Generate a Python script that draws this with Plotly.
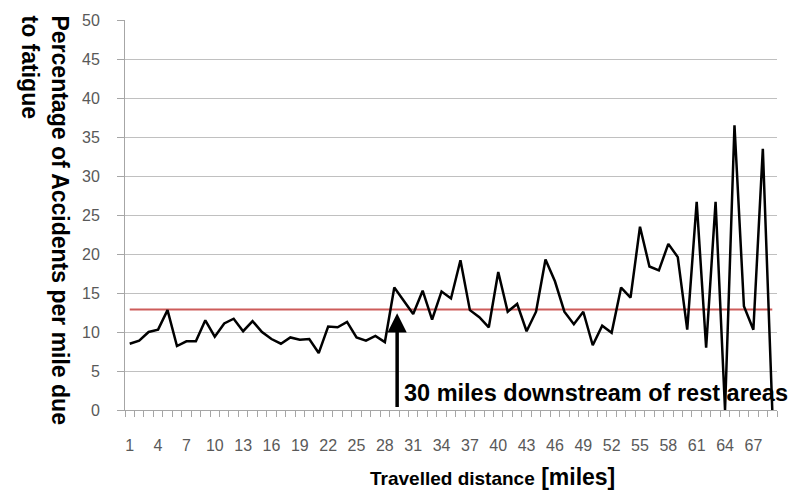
import plotly.graph_objects as go

# travelled distance categories (miles)
distance = list(range(1, 70))

# percentage of accidents per mile due to fatigue
pct_fatigue = [
    8.5, 8.9, 10.0, 10.3, 12.8, 8.2, 8.8, 8.8, 11.5, 9.4,
    11.1, 11.7, 10.1, 11.4, 10.0, 9.1, 8.5, 9.3, 9.0, 9.1,
    7.3, 10.7, 10.6, 11.3, 9.3, 8.9, 9.5, 8.7, 15.7, 14.0,
    12.3, 15.3, 11.6, 15.2, 14.3, 19.2, 12.8, 11.9, 10.6, 17.7,
    12.6, 13.6, 10.1, 12.6, 19.3, 16.5, 12.6, 11.0, 12.6, 8.3,
    10.8, 9.9, 15.7, 14.4, 23.5, 18.4, 17.9, 21.3, 19.6, 10.3,
    26.7, 8.0, 26.7, 0.0, 36.5, 13.3, 10.3, 33.5, 0.0,
]

avg_value = 12.9
x_ticks = list(range(1, 70, 3))
y_ticks = list(range(0, 55, 5))

TICK_FONT = dict(family="Liberation Sans", size=16, color="#595959")
BOLD = "Liberation Sans"

fig = go.Figure()

fig.add_trace(go.Scatter(
    x=distance, y=[avg_value] * len(distance),
    mode="lines",
    line=dict(color="#CD5C5A", width=2),
    hoverinfo="skip",
))

fig.add_trace(go.Scatter(
    x=distance, y=pct_fatigue,
    mode="lines",
    line=dict(color="black", width=2.5),
))

# arrow marking 30 miles downstream
fig.add_annotation(
    x=29.3, y=12.4, ax=29.3, ay=0.2,
    xref="x", yref="y", axref="x", ayref="y",
    showarrow=True, arrowhead=2, arrowsize=1.1, arrowwidth=3.5,
    arrowcolor="black", text="",
)
fig.add_annotation(
    x=29.8, y=2.2, xref="x", yref="y",
    text="<b>30 miles downstream of rest areas</b>",
    showarrow=False, xanchor="left", yanchor="middle",
    font=dict(family=BOLD, size=23.5, color="black"),
)

# y axis title, two lines aligned at the top
fig.add_annotation(
    x=0, y=1.0, xref="paper", yref="paper",
    xshift=-80, yshift=7, yanchor="top", xanchor="center",
    text="<b>Percentage of Accidents per mile due<br>to fatigue</b>",
    textangle=90, align="left", showarrow=False,
    font=dict(family=BOLD, size=23, color="black"),
)

# x axis title
fig.add_annotation(
    x=0.5, y=0, xref="paper", yref="paper",
    xshift=41, yshift=-67, yanchor="middle",
    text="<b><span style='font-size:19px'>Travelled distance</span> [miles]</b>",
    showarrow=False,
    font=dict(family=BOLD, size=23, color="black"),
)

fig.update_layout(
    width=791, height=499,
    margin=dict(l=125, r=14, t=12, b=89),
    plot_bgcolor="white", paper_bgcolor="white",
    showlegend=False,
    xaxis=dict(
        range=[0.5, 69.5],
        tickvals=x_ticks, ticktext=[str(v) for v in x_ticks],
        ticks="", ticklabelstandoff=21,
        tickfont=TICK_FONT,
        showgrid=False, zeroline=False,
        showline=True, linecolor="#A6A6A6", linewidth=1,
        minor=dict(ticks="outside", tick0=0.5, dtick=1, ticklen=6,
                   tickcolor="#A6A6A6", showgrid=False),
    ),
    yaxis=dict(
        range=[0, 50],
        tickvals=y_ticks,
        ticks="outside", ticklen=7, tickcolor="#A6A6A6",
        ticklabelstandoff=14,
        tickfont=TICK_FONT,
        showgrid=True, gridcolor="#C0C0C0", gridwidth=1,
        zeroline=False,
        showline=True, linecolor="#A6A6A6", linewidth=1,
    ),
)

# drop the default page margin so the chart fills the window
fig.write_html(
    "out.html",
    config={"displayModeBar": False},
    post_script="document.body.style.margin='0';",
)
